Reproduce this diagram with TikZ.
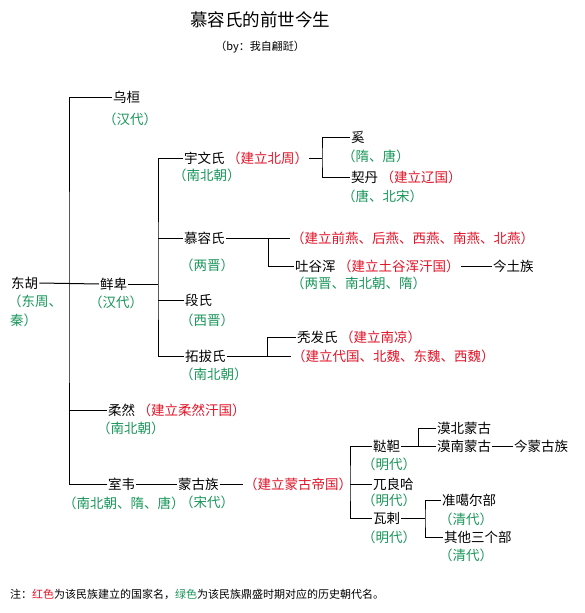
\documentclass[tikz,border=0pt]{standalone}
\usepackage{fontspec}
\newfontfamily\cjk{Noto Sans CJK SC}
\definecolor{cred}{RGB}{225,20,40}
\definecolor{cgreen}{RGB}{25,150,90}
\begin{document}
\begin{tikzpicture}[x=1pt,y=-1pt,
  base/.style={anchor=west,inner sep=1pt,font=\cjk\fontsize{13.5}{15}\selectfont},
  nm/.style={base,text=black},
  rd/.style={base,text=cred},
  gr/.style={base,text=cgreen},
  conn/.style={draw=black,line width=1pt}]
\useasboundingbox (0,0) rectangle (584,613);
\fill[white] (0,0) rectangle (584,613);
% title
\node[font=\cjk\fontsize{17.5}{20}\selectfont] (title) at (260,20) {慕容氏的前世今生};
\node[font=\cjk\fontsize{11}{13}\selectfont] (sub) at (260,47) {（by：我自翩跹）};
% nodes
\node[nm] (donghu) at (10,283) {东胡};
\node[gr] (donghug1) at (7,301) {（东周、};
\node[gr] (donghug2) at (9,320) {秦）};
\node[nm] (wuhuan) at (112,97) {乌桓};
\node[gr] (wuhuang) at (102,119) {（汉代）};
\node[nm] (xianbei) at (99,284) {鲜卑};
\node[gr] (xianbeig) at (88,302) {（汉代）};
\node[nm] (yuwen) at (183,158) {宇文氏};
\node[rd] (yuwenr) at (yuwen.east) {（建立北周）};
\node[gr] (yuwenag) at (172,175) {（南北朝）};
\node[nm] (xi) at (350,137) {奚};
\node[gr] (xig) at (341,156) {（隋、唐）};
\node[nm] (qidan) at (350,177) {契丹};
\node[rd] (qidanr) at (qidan.east) {（建立辽国）};
\node[gr] (qidang) at (341,196) {（唐、北宋）};
\node[nm] (murong) at (183,238) {慕容氏};
\node[rd] (murongr) at (290,238) {（建立前燕、后燕、西燕、南燕、北燕）};
\node[gr] (murongg) at (179,265) {（两晋）};
\node[nm] (tuyuhun) at (294,266) {吐谷浑};
\node[rd] (tuyuhunr) at (tuyuhun.east) {（建立土谷浑汗国）};
\node[nm] (jintu) at (492,266) {今土族};
\node[gr] (tuyuhung) at (290,283) {（两晋、南北朝、隋）};
\node[nm] (duan) at (184,300) {段氏};
\node[gr] (duang) at (179,320) {（西晋）};
\node[nm] (tuoba) at (184,356) {拓拔氏};
\node[rd] (tuobar) at (291,356) {（建立代国、北魏、东魏、西魏）};
\node[gr] (tuobag) at (179,374) {（南北朝）};
\node[nm] (tufa) at (296,337) {秃发氏};
\node[rd] (tufar) at (tufa.east) {（建立南凉）};
\node[nm] (rouran) at (107,410) {柔然};
\node[rd] (rouranr) at (rouran.east) {（建立柔然汗国）};
\node[gr] (rourang) at (96,428) {（南北朝）};
\node[nm] (shiwei) at (107,484) {室韦};
\node[gr] (shiweig) at (62,503) {（南北朝、隋、唐）};
\node[nm] (menggu) at (177,484) {蒙古族};
\node[gr] (menggug) at (179,502) {（宋代）};
\node[rd] (mengguR) at (243,484) {（建立蒙古帝国）};
\node[nm] (dada) at (372,446) {鞑靼};
\node[gr] (dadag) at (361,464) {（明代）};
\node[nm] (mobei) at (436,428) {漠北蒙古};
\node[nm] (monan) at (436,446) {漠南蒙古};
\node[nm] (jinmeng) at (513,446) {今蒙古族};
\node[nm] (wuliang) at (372,484) {兀良哈};
\node[gr] (wulianghg) at (361,500) {（明代）};
\node[nm] (wala) at (372,518) {瓦剌};
\node[gr] (walag) at (361,537) {（明代）};
\node[nm] (zhunge) at (441,500) {准噶尔部};
\node[gr] (zhungeg) at (438,519) {（清代）};
\node[nm] (qita) at (443,537) {其他三个部};
\node[gr] (qitag) at (438,555) {（清代）};
\node[anchor=west,inner sep=0pt,font=\cjk\fontsize{11}{13}\selectfont] (note) at (10,594)
  {注：\textcolor{cred}{红色}为该民族建立的国家名，\textcolor{cgreen}{绿色}为该民族鼎盛时期对应的历史朝代名。};
% junctions
\coordinate (T) at (69,284);
\coordinate (X) at (158,284);
\coordinate (Y) at (322,158);
\coordinate (M) at (268,238);
\coordinate (B) at (267,356);
\coordinate (G) at (350,484);
\coordinate (D) at (418,446);
\coordinate (W) at (425,518);
% connectors
\draw[conn] (wuhuan.west) -| (T) |- (shiwei.west);
\draw[conn] (T|-rouran.west) -- (rouran.west);
\draw[conn] (donghu.east) -- (xianbei.west);
\draw[conn] (xianbei.east) -- (X);
\draw[conn] (yuwen.west) -| (X) |- (tuoba.west);
\draw[conn] (X|-murong.west) -- (murong.west);
\draw[conn] (X|-duan.west) -- (duan.west);
\draw[conn] (yuwenr.east) -- (Y);
\draw[conn] (xi.west) -| (Y) |- (qidan.west);
\draw[conn] (murong.east) -- (murongr.west);
\draw[conn] (M) |- (tuyuhun.west);
\draw[conn] (tuyuhunr.east) -- (jintu.west);
\draw[conn] (tuoba.east) -- (tuobar.west);
\draw[conn] (B) |- (tufa.west);
\draw[conn] (shiwei.east) -- (menggu.west);
\draw[conn] (menggu.east) -- (mengguR.west);
\draw[conn] (mengguR.east) -- (G);
\draw[conn] (dada.west) -| (G) |- (wala.west);
\draw[conn] (G) -- (wuliang.west);
\draw[conn] (dada.east) -- (monan.west);
\draw[conn] (D) |- (mobei.west);
\draw[conn] (monan.east) -- (jinmeng.west);
\draw[conn] (wala.east) -- (W);
\draw[conn] (zhunge.west) -| (W) |- (qita.west);
\end{tikzpicture}
\end{document}
